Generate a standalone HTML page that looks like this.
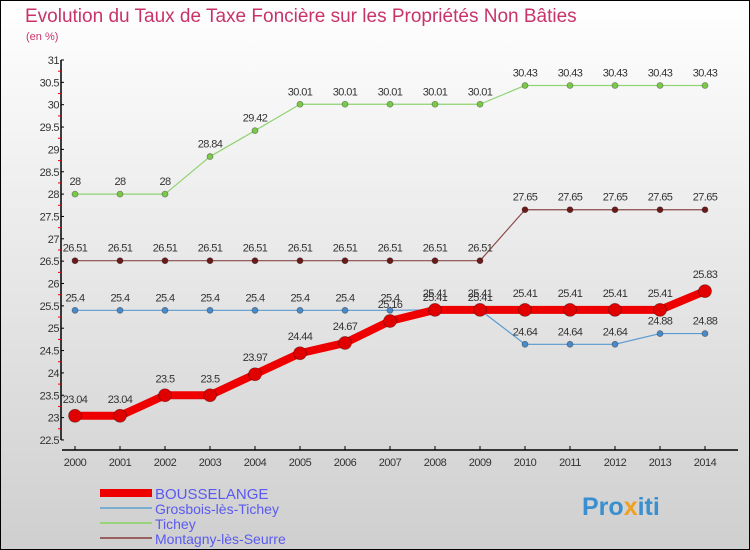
<!DOCTYPE html>
<html><head><meta charset="utf-8"><style>
body{margin:0;width:750px;height:550px;overflow:hidden;font-family:"Liberation Sans",sans-serif}
svg{display:block}
</style></head><body>
<svg id="chart" width="750" height="550" xmlns="http://www.w3.org/2000/svg">
<defs><linearGradient id="bg" x1="0" y1="0" x2="0" y2="1"><stop offset="0" stop-color="#ffffff"/><stop offset="1" stop-color="#cfcfcf"/></linearGradient></defs>
<rect x="0.5" y="0.5" width="749" height="549" fill="url(#bg)" stroke="#000"/>
<text x="25" y="22" font-size="19" fill="#c8336a">Evolution du Taux de Taxe Foncière sur les Propriétés Non Bâties</text>
<text x="26" y="40" font-size="11" fill="#c8336a">(en %)</text>
<g id="axes"></g>
<g id="series"></g>
<g id="legend"></g>
<text x="582" y="515" font-size="25" font-weight="bold" fill="#3a8fd0">Pro<tspan fill="#f0a020">x</tspan>iti</text>
</svg>
<script>
const years=[2000,2001,2002,2003,2004,2005,2006,2007,2008,2009,2010,2011,2012,2013,2014];
const yTicks=[22.5,23,23.5,24,24.5,25,25.5,26,26.5,27,27.5,28,28.5,29,29.5,30,30.5,31];
const bousselange=[23.04,23.04,23.5,23.5,23.97,24.44,24.67,25.16,25.41,25.41,25.41,25.41,25.41,25.41,25.83];
const grosbois=[25.4,25.4,25.4,25.4,25.4,25.4,25.4,25.4,25.41,25.41,24.64,24.64,24.64,24.88,24.88];
const tichey=[28,28,28,28.84,29.42,30.01,30.01,30.01,30.01,30.01,30.43,30.43,30.43,30.43,30.43];
const montagny=[26.51,26.51,26.51,26.51,26.51,26.51,26.51,26.51,26.51,26.51,27.65,27.65,27.65,27.65,27.65];
const seriesNames=["BOUSSELANGE","Grosbois-lès-Tichey","Tichey","Montagny-lès-Seurre"];

const NS="http://www.w3.org/2000/svg";
function X(i){return 75+i*45;}
function Y(v){return 60+(31-v)*44.7;}
function mk(tag,attrs,parent,txt){const e=document.createElementNS(NS,tag);for(const k in attrs)e.setAttribute(k,attrs[k]);if(txt!==undefined)e.textContent=txt;parent.appendChild(e);return e;}
const axes=document.getElementById('axes');
let yl=mk('line',{x1:61,y1:Y(31),x2:61,y2:Y(22.5),stroke:'#000','stroke-width':1.5},axes);


yTicks.forEach(v=>{
  const y=Y(v);
  mk('line',{x1:61,y1:y,x2:64,y2:y,stroke:'#000'},axes);
  mk('line',{x1:58,y1:y+11.2,x2:61,y2:y+11.2,stroke:v>22.5?'#e00':'none'},axes);
  const t=mk('text',{x:59,y:y+4,'font-size':11,'text-anchor':'end',fill:'#333','letter-spacing':'-0.5'},axes,String(v));
  
  
});
let xl=mk('line',{x1:62,y1:450,x2:738,y2:450,stroke:'#000','stroke-width':1.5},axes);


years.forEach((yr,i)=>{
  mk('line',{x1:X(i),y1:446,x2:X(i),y2:450,stroke:'#000'},axes);
  const t=mk('text',{x:X(i),y:466,'font-size':11,'text-anchor':'middle',fill:'#333','letter-spacing':'-0.5'},axes,String(yr));
  
  
});
const ser=document.getElementById('series');
function draw(vals,name,color,width,r,fill,labOff){
  const g=mk('g',{},ser);
  
  
  const p=mk('polyline',{points:vals.map((v,i)=>X(i)+','+Y(v)).join(' '),fill:'none',stroke:color,'stroke-width':width,'stroke-linejoin':'round'},g);
  
  
  vals.forEach((v,i)=>{
    const c=mk('circle',{cx:X(i),cy:Y(v),r:r,fill:fill,stroke:'rgba(0,0,0,0.35)','stroke-width':0.8},g);
    
    
    const t=mk('text',{x:X(i),y:Y(v)-labOff,'font-size':11,'text-anchor':'middle',fill:'#333','letter-spacing':'-0.6'},g,String(v));
    
    
  });
}
draw(tichey,'tichey','#8fd470',1.2,3,'#7cc84a',9);
draw(montagny,'montagny','#8a4a4a',1.2,3,'#6b1a1a',9);
draw(grosbois,'grosbois','#5a9ad0',1.2,3,'#4a8ac8',9);
draw(bousselange,'bousselange','#ee0000',8,6.5,'#e00000',13);
const lg=document.getElementById('legend');
const lc=['#ee0000','#7aaed0','#9ad47a','#9a6060'],lw=[8,2,2,2];
seriesNames.forEach((n,i)=>{
  const y=493+i*15;
  const g=mk('g',{},lg);
  
  
  mk('line',{x1:100,y1:y,x2:152,y2:y,stroke:lc[i],'stroke-width':lw[i]},g);
  mk('text',{x:155,y:y+6,'font-size':i==0?15:14,fill:'#5a5af0'},g,n);
});
</script>
</body></html>
